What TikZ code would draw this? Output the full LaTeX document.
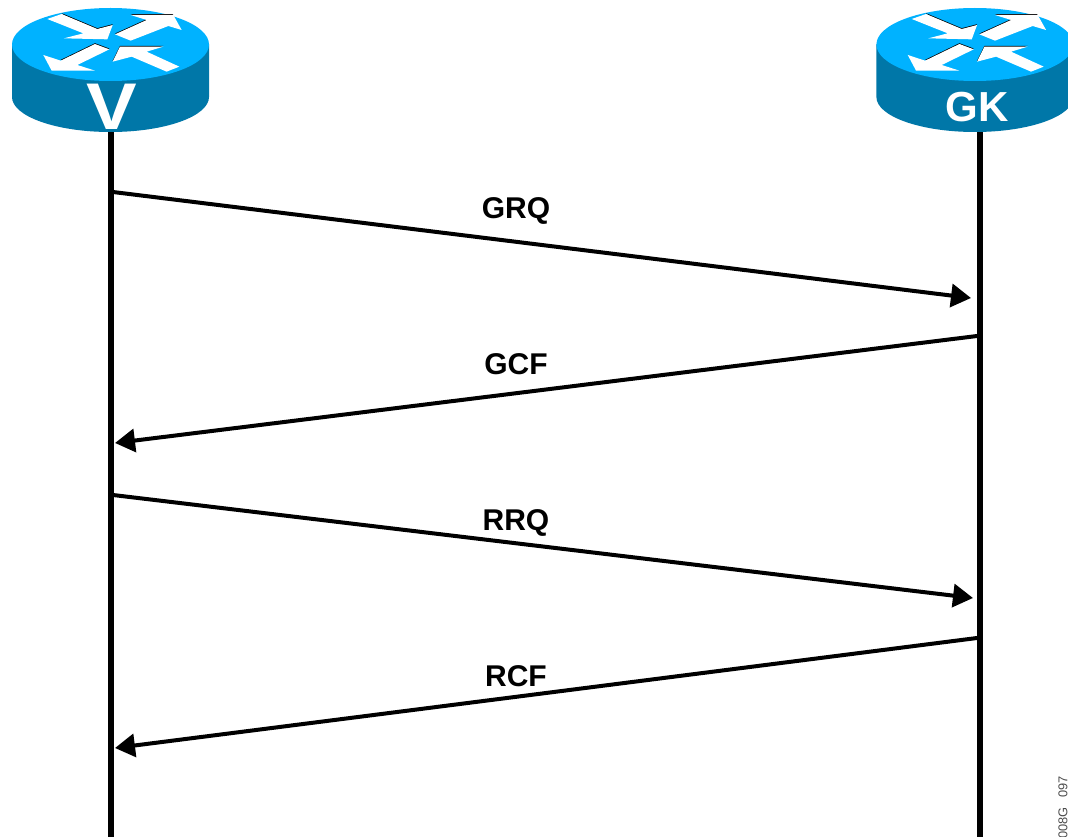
\documentclass[tikz,border=0pt]{standalone}
\usepackage{fontspec}
\setmainfont{Liberation Sans}
\usetikzlibrary{arrows.meta}
\definecolor{routertop}{HTML}{00B2FF}
\definecolor{routerside}{HTML}{0077A8}
\tikzset{
  lifeline/.style={line width=6pt,black},
  msg/.style={line width=4pt,black,-{Triangle[length=20pt,width=23pt]}},
  msglabel/.style={font=\bfseries\fontsize{30}{30}\selectfont,black,inner sep=0pt,anchor=base},
  routerlabel/.style={white,inner sep=0pt,anchor=base},
  arrowshape/.style={fill=white,draw=none},
  arrowshadow/.style={fill=black,draw=none},
  pics/router/.style={code={
    \fill[routerside] (12,44.5) -- (12,97) arc[start angle=180,end angle=0,x radius=98.5,y radius=35] -- (209,44.5) -- cycle;
    \fill[routertop] (110.5,44.5) ellipse[x radius=98.5,y radius=36.5];
    \begin{scope}[x=0.3333pt,y=-0.3333pt]
      \begin{scope}[yshift=0.8pt]
        \fill[arrowshadow] (185,42)--(292,87)--(338,75)--(322,100)--(250,100)--cycle;
        \fill[arrowshadow] (345,103)--(440,60)--(392,45)--(520,45)--(500,60)--(392,110)--cycle;
        \fill[arrowshadow] (182,182)--(285,132)--(328,148)--(232,180)--cycle;
        \fill[arrowshadow] (338,185)--(360,140)--(490,140)--(440,155)--(380,170)--cycle;
      \end{scope}
      \fill[arrowshape] (142,57)--(185,42)--(292,87)--(338,75)--(322,118)--(192,115)--(250,100)--cycle;
      \fill[arrowshape] (345,103)--(440,60)--(392,45)--(520,45)--(545,90)--(505,78)--(392,122)--cycle;
      \fill[arrowshape] (130,165)--(182,182)--(285,132)--(328,148)--(232,195)--(285,212)--(155,212)--cycle;
      \fill[arrowshape] (538,200)--(500,215)--(395,170)--(338,185)--(360,140)--(490,140)--(440,155)--cycle;
    \end{scope}
  }}
}
\begin{document}
\begin{tikzpicture}[x=1pt,y=-1pt]
\useasboundingbox (0,0) rectangle (1068,837);
\clip (0,0) rectangle (1068,837);
\fill[white] (0,0) rectangle (1068,837);
\coordinate (vtop) at (111,130);
\coordinate (vbot) at (111,837);
\coordinate (gtop) at (980,130);
\coordinate (gbot) at (980,837);
\draw[lifeline] (vtop) -- (vbot);
\draw[lifeline] (gtop) -- (gbot);
\pic at (0,0) {router};
\pic at (864.4,0) {router};
\node[routerlabel,font=\bfseries\fontsize{66}{66}\selectfont,xscale=1.15] (vlabel) at (111.5,130) {V};
\node[routerlabel,font=\bfseries\fontsize{42}{42}\selectfont] (gklabel) at (977,122) {GK};
\coordinate (a1) at (113,192);
\coordinate (b1) at (971,298);
\coordinate (a2) at (977,336);
\coordinate (b2) at (115,443);
\coordinate (a3) at (113,495);
\coordinate (b3) at (973,598);
\coordinate (a4) at (977,638);
\coordinate (b4) at (115,748);
\draw[msg] (a1) -- (b1);
\draw[msg] (a2) -- (b2);
\draw[msg] (a3) -- (b3);
\draw[msg] (a4) -- (b4);
\node[msglabel] (grq) at (516,218.5) {GRQ};
\node[msglabel] (gcf) at (516,374.5) {GCF};
\node[msglabel] (rrq) at (516,530) {RRQ};
\node[msglabel] (rcf) at (516,686) {RCF};
\node[font=\fontsize{12.8}{12.8}\selectfont,rotate=90,anchor=east,inner sep=0pt,black!70] (code) at (1063,776) {008G\hspace{0.75em}097};
\end{tikzpicture}
\end{document}
